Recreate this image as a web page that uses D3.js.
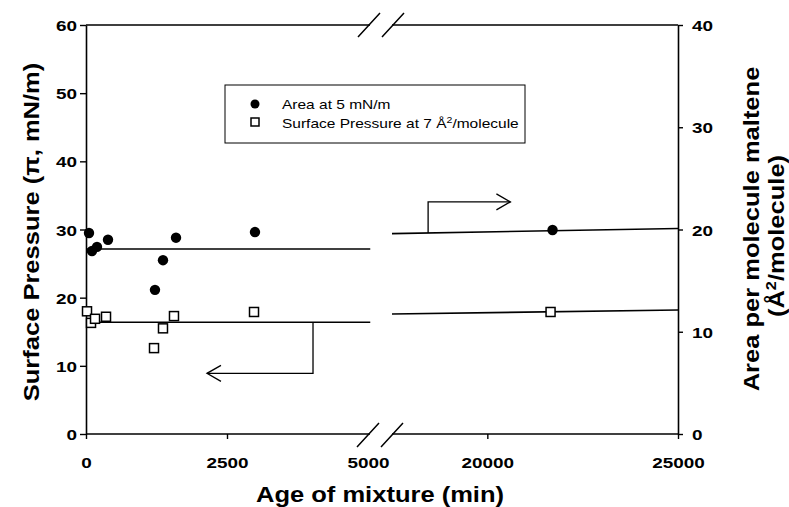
<!DOCTYPE html>
<html>
<head>
<meta charset="utf-8">
<script src="https://cdn.jsdelivr.net/npm/d3@7"></script>
<style>
  html, body { margin: 0; padding: 0; background: #fff; }
  svg { display: block; font-family: "Liberation Sans", Arial, sans-serif; }
</style>
</head>
<body>
<svg id="chart" width="789" height="507"></svg>
<script>
// Age of mixture (min) for each sample
const areaAge = [53, 106, 195, 390, 1223, 1365, 1596, 2996, 21710];
// Area per maltene molecule at 5 mN/m (Å²/molecule, right axis)
const areaValues = [19.66, 17.9, 18.3, 19.0, 14.1, 17.0, 19.2, 19.75, 19.95];

const pressureAge = [18, 89, 160, 355, 1206, 1365, 1560, 2979, 21658];
// Surface pressure at 7 Å²/molecule (mN/m, left axis)
const pressureValues = [18.0, 16.3, 16.9, 17.2, 12.6, 15.5, 17.3, 17.9, 17.9];

// Trend lines: [age, value] end points, one pair per axis segment
const areaFitEarly = [[0, 18.1], [5040, 18.1]];
const areaFitLate = [[17500, 19.6], [25000, 20.1]];
const pressureFitEarly = [[0, 16.4], [5040, 16.4]];
const pressureFitLate = [[17500, 17.6], [25000, 18.2]];

// Arrows tying each trend to its axis
const areaArrow = [[18447, 19.65], [18447, 22.7], [20605, 22.7]];
const pressureArrow = [[4025, 16.4], [4025, 8.9], [2145, 8.9]];

const earlyTicks = [0, 2500, 5000];
const lateTicks = [20000, 25000];
const leftTicks = [0, 10, 20, 30, 40, 50, 60];
const rightTicks = [0, 10, 20, 30, 40];

const svg = d3.select("#chart");

const xEarly = d3.scaleLinear().domain([0, 5000]).range([86, 368]);
const xLate = d3.scaleLinear().domain([17500, 25000]).range([392, 678]);
const xAt = v => (v <= 6000 ? xEarly(v) : xLate(v));
const yLeft = d3.scaleLinear().domain([0, 60]).range([434, 25]);
const yRight = d3.scaleLinear().domain([0, 40]).range([434, 25]);

const TOP = 25, BOTTOM = 434, XL = 86, XR = 678;
const breakA = 370, breakB = 392;
const stretch = 1.22;

const g = svg.append("g");

// frame: top border split by the break, left and right axes drawn below
g.append("path")
  .attr("d", `M${XL},${TOP}H${breakA}M${breakB},${TOP}H${XR}`)
  .attr("stroke", "#000").attr("stroke-width", 1.6).attr("fill", "none");

// left axis
const leftAxis = g.append("g").attr("transform", `translate(${XL},0)`)
  .call(d3.axisLeft(yLeft).tickValues(leftTicks).tickSize(6).tickSizeOuter(0).tickFormat(d3.format("d")));
// right axis
const rightAxis = g.append("g").attr("transform", `translate(${XR},0)`)
  .call(d3.axisRight(yRight).tickValues(rightTicks).tickSize(5).tickSizeOuter(0).tickFormat(d3.format("d")));
// bottom axis, two segments
const bottomEarly = g.append("g").attr("transform", `translate(0,${BOTTOM})`)
  .call(d3.axisBottom(xEarly).tickValues(earlyTicks).tickSize(5).tickSizeOuter(0).tickFormat(d3.format("d")));
const bottomLate = g.append("g").attr("transform", `translate(0,${BOTTOM})`)
  .call(d3.axisBottom(xLate).tickValues(lateTicks).tickSize(5).tickSizeOuter(0).tickFormat(d3.format("d")));

bottomEarly.select(".domain").attr("d", `M${XL},0H${breakA}`);
bottomLate.select(".domain").attr("d", `M${breakB},0H${XR}`);

[leftAxis, rightAxis, bottomEarly, bottomLate].forEach(a => {
  a.selectAll(".domain").attr("stroke-width", 1.6);
  a.selectAll(".tick line").attr("stroke-width", 1.4);
  a.selectAll("text")
    .attr("font-family", "'Liberation Sans', Arial, sans-serif")
    .attr("font-weight", "bold").attr("font-size", 15.5).attr("fill", "#000");
});
leftAxis.selectAll(".tick text").attr("x", -9 / stretch).attr("dy", "0.36em")
  .attr("transform", `scale(${stretch},1)`);
rightAxis.selectAll(".tick text").attr("x", 14 / stretch).attr("dy", "0.36em")
  .attr("transform", `scale(${stretch},1)`);
// bottom tick labels are centred on their tick, so scaling about the tick keeps the centre
[bottomEarly, bottomLate].forEach(a =>
  a.selectAll(".tick text").attr("y", 28).attr("dy", "0.36em")
    .attr("transform", `scale(${stretch},1)`)
    .attr("x", 0));
bottomEarly.selectAll(".tick").filter(d => d === 5000).select("line").remove();

// axis break marks
const slash = (cx, cy) => `M${cx - 11},${cy + 12}L${cx + 11},${cy - 12}`;
g.append("path")
  .attr("d", [slash(breakA - 1, TOP), slash(breakB + 1, TOP), slash(breakA - 2, BOTTOM + 1), slash(breakB, BOTTOM + 1)].join(""))
  .attr("stroke", "#000").attr("stroke-width", 1.5).attr("fill", "none");

// trend lines
const lineLeft = d3.line().x(d => xAt(d[0])).y(d => yLeft(d[1]));
const lineRight = d3.line().x(d => xAt(d[0])).y(d => yRight(d[1]));
[areaFitEarly, areaFitLate].forEach(seg =>
  g.append("path").attr("d", lineRight(seg)).attr("stroke", "#000").attr("stroke-width", 1.6).attr("fill", "none"));
[pressureFitEarly, pressureFitLate].forEach(seg =>
  g.append("path").attr("d", lineLeft(seg)).attr("stroke", "#000").attr("stroke-width", 1.6).attr("fill", "none"));

// arrows
function drawArrow(pts, line) {
  g.append("path").attr("d", line(pts)).attr("stroke", "#000").attr("stroke-width", 1.3).attr("fill", "none");
  const p = pts[pts.length - 1], q = pts[pts.length - 2];
  const x1 = xAt(p[0]), x0 = xAt(q[0]);
  const y1 = line === lineLeft ? yLeft(p[1]) : yRight(p[1]);
  const dir = Math.sign(x1 - x0);
  g.append("path")
    .attr("d", `M${x1 - dir * 14},${y1 - 8}L${x1},${y1}L${x1 - dir * 14},${y1 + 8}`)
    .attr("stroke", "#000").attr("stroke-width", 1.3).attr("fill", "none");
}
drawArrow(areaArrow, lineRight);
drawArrow(pressureArrow, lineLeft);

// data points
g.append("g").selectAll("rect")
  .data(pressureAge.map((a, i) => [a, pressureValues[i]]))
  .join("rect")
  .attr("x", d => xAt(d[0]) - 4.5).attr("y", d => yLeft(d[1]) - 4.5)
  .attr("width", 9).attr("height", 9)
  .attr("fill", "#fff").attr("stroke", "#000").attr("stroke-width", 1.5);
g.append("g").selectAll("circle")
  .data(areaAge.map((a, i) => [a, areaValues[i]]))
  .join("circle")
  .attr("cx", d => xAt(d[0])).attr("cy", d => yRight(d[1]))
  .attr("r", 5.2).attr("fill", "#000");

// legend
const lg = g.append("g");
lg.append("rect").attr("x", 225).attr("y", 85).attr("width", 300).attr("height", 58)
  .attr("fill", "#fff").attr("stroke", "#000").attr("stroke-width", 1);
lg.append("circle").attr("cx", 255).attr("cy", 104).attr("r", 4.5).attr("fill", "#000");
lg.append("rect").attr("x", 251).attr("y", 118).attr("width", 8).attr("height", 8)
  .attr("fill", "#fff").attr("stroke", "#000").attr("stroke-width", 1.5);
const legendText = (y) => lg.append("text")
  .attr("transform", `translate(282,${y}) scale(1.24,1)`)
  .attr("font-size", 12.5).attr("fill", "#000");
legendText(108.5).text("Area at 5 mN/m");
const lt2 = legendText(127.5);
lt2.append("tspan").text("Surface Pressure at 7 Å");
lt2.append("tspan").attr("dy", -5).attr("font-size", 8.5).text("2");
lt2.append("tspan").attr("dy", 5).text("/molecule");

// axis titles
const title = (x, y, rot) => g.append("text")
  .attr("transform", `translate(${x},${y}) rotate(${rot}) scale(1.16,1)`)
  .attr("text-anchor", "middle").attr("font-weight", "bold").attr("font-size", 22).attr("fill", "#000");

title(380, 502, 0).text("Age of mixture (min)");
title(39, 232, -90).text("Surface Pressure (π, mN/m)");
title(759, 229, -90).text("Area per molecule maltene");
const rt2 = title(784, 236, -90);
rt2.append("tspan").text("(Å");
rt2.append("tspan").attr("dy", -8).attr("font-size", 14).text("2");
rt2.append("tspan").attr("dy", 8).text("/molecule)");
</script>
</body>
</html>
